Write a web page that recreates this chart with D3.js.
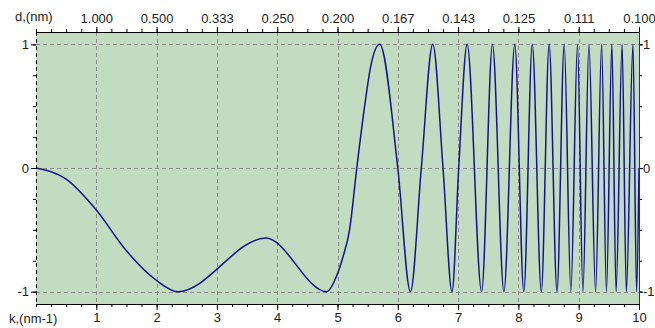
<!DOCTYPE html>
<html>
<head>
  <meta charset="utf-8">
  <script src="https://cdn.jsdelivr.net/npm/d3@7.0.0/dist/d3.min.js"></script>
  <style>
    body { margin: 0; background: #fff; }
    text { font-family: "Liberation Sans", Arial, sans-serif; font-size: 13px; fill: #222; }
  </style>
</head>
<body>
  <div id="chart"></div>
  <script>
    // curve: wave number k and amplitude
    var kVals = [0, 0.5, 1, 1.5, 2, 2.35, 3.81, 4.82, 4.98, 5.09, 5.2, 5.32, 5.45, 5.55,
      5.70, 6.00, 6.21, 6.39, 6.58, 6.75, 6.90, 7.01, 7.15, 7.39, 7.57, 7.76, 7.94, 8.09, 8.23, 8.38,
      8.51, 8.64, 8.76, 8.87, 8.98, 9.07, 9.17, 9.28, 9.38, 9.46, 9.55, 9.62, 9.72, 9.79, 9.90, 9.96, 10];
    var ampVals = [0, -0.09, -0.34, -0.67, -0.91, -1, -0.567, -1, -0.88, -0.72, -0.5, 0, 0.5, 0.82,
      1, 0, -1, 0, 1, 0, -1, 0, 1, -1, 1, -1, 1, -1, 1, -1,
      1, -1, 1, -1, 1, -1, 1, -1, 1, -1, 1, -1, 1, -1, 1, -1, 0];

    var kTicks = [1, 2, 3, 4, 5, 6, 7, 8, 9, 10];
    var dLabels = ["1.000", "0.500", "0.333", "0.250", "0.200", "0.167", "0.143", "0.125", "0.111", "0.100"];
    var yTicks = [-1, 0, 1];
    var yLabels = ["-1", "0", "1"];

    var W = 655, H = 328;
    var plotL = 36, plotR = 639, plotT = 32, plotB = 304;

    var svg = d3.select("#chart").append("svg")
      .attr("width", W)
      .attr("height", H);

    var x = d3.scaleLinear().domain([0, 10]).range([plotL, plotR]);
    var y = d3.scaleLinear().domain([-1.1, 1.1]).range([plotB, plotT]);

    // plot background
    svg.append("rect")
      .attr("x", plotL).attr("y", plotT)
      .attr("width", plotR - plotL).attr("height", plotB - plotT)
      .attr("fill", "#c1dcc1");

    // grid
    svg.append("g").selectAll("line")
      .data(kTicks.slice(0, -1))
      .enter().append("line")
      .attr("x1", function(d) { return Math.round(x(d)) + 0.5; })
      .attr("x2", function(d) { return Math.round(x(d)) + 0.5; })
      .attr("y1", plotT).attr("y2", plotB)
      .attr("stroke", "#8a8a8a").attr("stroke-dasharray", "4,3");
    svg.append("g").selectAll("line")
      .data(yTicks)
      .enter().append("line")
      .attr("x1", plotL).attr("x2", plotR)
      .attr("y1", function(d) { return Math.round(y(d)) + 0.5; })
      .attr("y2", function(d) { return Math.round(y(d)) + 0.5; })
      .attr("stroke", "#8a8a8a").attr("stroke-dasharray", "4,3");

    // curve
    var pts = kVals.map(function(k, i) { return [k, ampVals[i]]; });
    var line = d3.line()
      .x(function(d) { return x(d[0]); })
      .y(function(d) { return y(d[1]); })
      .curve(d3.curveMonotoneX);
    svg.append("path")
      .datum(pts)
      .attr("d", line)
      .attr("fill", "none")
      .attr("stroke", "#141488")
      .attr("stroke-width", 1.5);

    // minor ticks
    var minorK = d3.range(0, 10.001, 0.25);
    var minorY = d3.range(-1, 1.001, 0.25);

    function styleAxis(g) {
      g.select(".domain").remove();
      g.selectAll("line").attr("stroke", "#000");
    }
    function yFmt(d) { return yLabels[yTicks.indexOf(d)]; }

    svg.append("g").attr("transform", "translate(0," + plotB + ")")
      .call(d3.axisBottom(x).tickValues(minorK).tickSize(3).tickFormat(""))
      .call(styleAxis);
    svg.append("g").attr("transform", "translate(0," + plotT + ")")
      .call(d3.axisTop(x).tickValues(minorK).tickSize(3).tickFormat(""))
      .call(styleAxis);
    svg.append("g").attr("transform", "translate(" + plotL + ",0)")
      .call(d3.axisLeft(y).tickValues(minorY).tickSize(3).tickFormat(""))
      .call(styleAxis);
    svg.append("g").attr("transform", "translate(" + plotR + ",0)")
      .call(d3.axisRight(y).tickValues(minorY).tickSize(3).tickFormat(""))
      .call(styleAxis);

    // major ticks with labels
    svg.append("g").attr("transform", "translate(0," + plotB + ")")
      .call(d3.axisBottom(x).tickValues(kTicks).tickSize(6).tickPadding(3).tickFormat(d3.format("d")))
      .call(styleAxis);
    svg.append("g").attr("transform", "translate(0," + plotT + ")")
      .call(d3.axisTop(x).tickValues(kTicks).tickSize(5).tickPadding(4)
        .tickFormat(function(d, i) { return dLabels[i]; }))
      .call(styleAxis);
    svg.append("g").attr("transform", "translate(" + plotL + ",0)")
      .call(d3.axisLeft(y).tickValues(yTicks).tickSize(5).tickPadding(2).tickFormat(yFmt))
      .call(styleAxis);
    svg.append("g").attr("transform", "translate(" + plotR + ",0)")
      .call(d3.axisRight(y).tickValues(yTicks).tickSize(4).tickPadding(0).tickFormat(yFmt))
      .call(styleAxis);

    svg.selectAll(".tick text").attr("fill", "#222").style("font-size", "13px")
      .style("font-family", "'Liberation Sans', Arial, sans-serif");

    // frame
    svg.append("line").attr("x1", plotL).attr("x2", plotR).attr("y1", plotT + 0.5).attr("y2", plotT + 0.5)
      .attr("stroke", "#000");
    svg.append("line").attr("x1", plotL).attr("x2", plotR).attr("y1", plotB + 0.5).attr("y2", plotB + 0.5)
      .attr("stroke", "#000");
    svg.append("line").attr("x1", plotL + 0.5).attr("x2", plotL + 0.5).attr("y1", plotT).attr("y2", plotB)
      .attr("stroke", "#000").attr("stroke-dasharray", "4,3");
    svg.append("line").attr("x1", plotR + 0.5).attr("x2", plotR + 0.5).attr("y1", plotT).attr("y2", plotB)
      .attr("stroke", "#333");

    // axis titles
    svg.append("text").attr("x", 15).attr("y", 21).text("d,(nm)");
    svg.append("text").attr("x", 9).attr("y", 323).text("k,(nm-1)");
  </script>
</body>
</html>
